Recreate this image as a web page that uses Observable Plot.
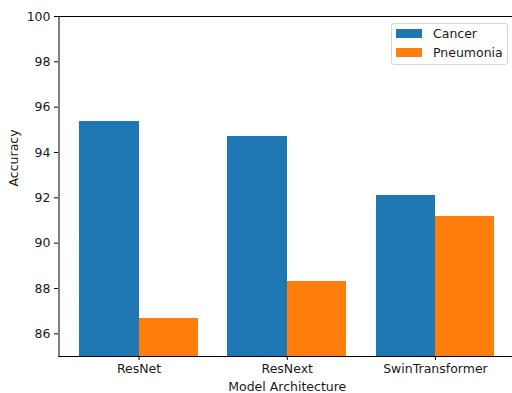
<!DOCTYPE html>
<html>
<head>
<meta charset="utf-8">
<script src="https://cdn.jsdelivr.net/npm/d3@7"></script>
<script src="https://cdn.jsdelivr.net/npm/@observablehq/plot@0.6"></script>
<style>
  html, body { margin: 0; padding: 0; background: #fff; overflow: hidden; }
  #wrap { position: relative; width: 512px; height: 393px; overflow: hidden; }
  #wrap svg { overflow: hidden; }
  .legend { position: absolute; left: 391px; top: 23px; width: 117px; height: 42px;
    border: 1px solid #d6d6d6; border-radius: 3px; background: rgba(255,255,255,0.8);
    font-family: "DejaVu Sans", sans-serif; font-size: 12.5px; color: #1a1a1a; box-sizing: border-box; }
  .legend .item { position: absolute; left: 4px; height: 14px; display: flex; align-items: center; }
  .legend .sw { width: 26px; height: 8.5px; margin-right: 11px; }
</style>
</head>
<body>
<div id="wrap"></div>
<script>
const models = ["ResNet", "ResNext", "SwinTransformer"];
const series = ["Cancer", "Pneumonia"];
const cancer = [95.37, 94.71, 92.12];
const pneumonia = [86.68, 88.31, 91.19];
const colors = ["#1f77b4", "#ff7f0e"];
const yTicks = [86, 88, 90, 92, 94, 96, 98, 100];

const barWidth = 0.4;
const rows = [];
models.forEach((m, i) => {
  rows.push({model: m, series: "Cancer", value: cancer[i], idx: i, off: -barWidth / 2});
  rows.push({model: m, series: "Pneumonia", value: pneumonia[i], idx: i, off: barWidth / 2});
});

const font = "DejaVu Sans, sans-serif";
const fs = 12.5;
const chart = Plot.plot({
  width: 512,
  height: 393,
  marginLeft: 58,
  marginTop: 16,
  marginBottom: 37,
  marginRight: 0,
  style: {fontFamily: font, fontSize: fs + "px", color: "#1a1a1a", background: "#fff"},
  x: {domain: [-0.54, 2.54], range: [58.5, 515], axis: null},
  y: {domain: [85, 100], range: [356, 16], axis: null},
  color: {domain: series, range: colors},
  marks: [
    Plot.rectY(rows, {
      x1: d => d.idx + d.off - barWidth / 2,
      x2: d => d.idx + d.off + barWidth / 2,
      y1: 85, y2: "value", fill: "series", shapeRendering: "crispEdges"
    }),
    Plot.axisY(yTicks, {tickSize: 4, tickPadding: 4, fontSize: fs, label: null, stroke: "#000", color: "#1a1a1a"}),
    Plot.axisX(models.map((_, i) => i), {
      tickSize: 4, tickPadding: 4, fontSize: fs, label: null,
      tickFormat: i => models[i], stroke: "#000"
    }),
    Plot.ruleY([85, 100], {stroke: "#000", strokeWidth: 1}),
    Plot.ruleX([-0.54], {stroke: "#000", strokeWidth: 1}),
    Plot.text(["Model Architecture"], {x: 1, frameAnchor: "bottom", dy: 34, fontSize: fs, fill: "#1a1a1a"}),
    Plot.text(["Accuracy"], {frameAnchor: "left", dx: -45, rotate: -90, fontSize: fs, fill: "#1a1a1a"})
  ]
});
document.getElementById("wrap").appendChild(chart);

const legend = document.createElement("div");
legend.className = "legend";
series.forEach((s, i) => {
  const it = document.createElement("div");
  it.className = "item";
  it.style.top = (2.5 + i * 19) + "px";
  it.innerHTML = `<span class="sw" style="background:${colors[i]}"></span><span>${s}</span>`;
  legend.appendChild(it);
});
document.getElementById("wrap").appendChild(legend);
</script>
</body>
</html>
